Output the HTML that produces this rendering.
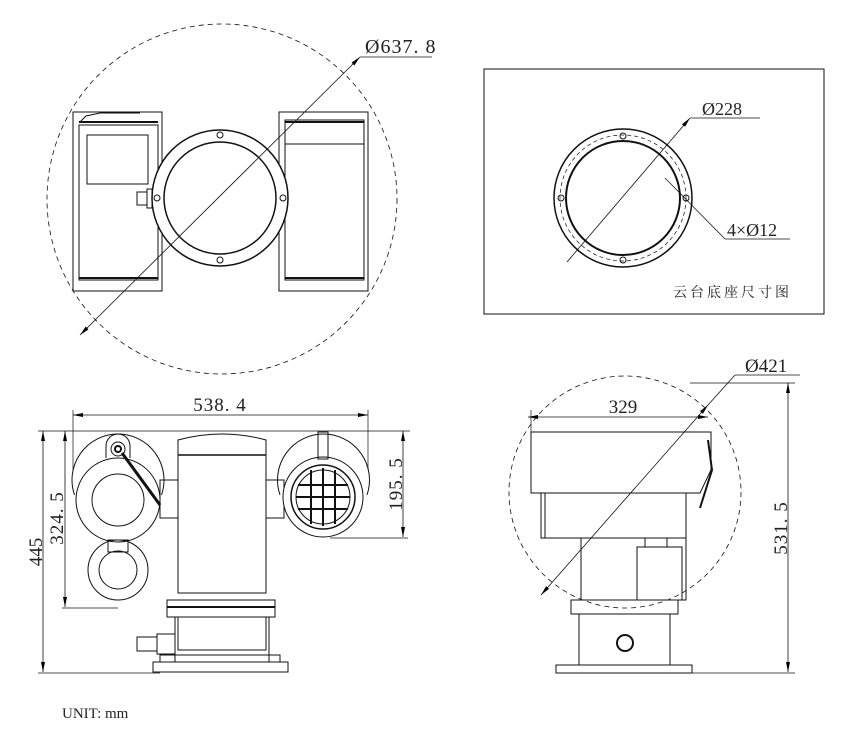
<!DOCTYPE html>
<html><head><meta charset="utf-8"><style>
html,body{margin:0;padding:0;background:#fff;}
svg{display:block;}
text{font-family:"Liberation Serif","Noto Serif CJK SC",serif;fill:#222;}
</style></head><body>
<svg width="863" height="736" viewBox="0 0 863 736" xmlns="http://www.w3.org/2000/svg">
<defs>
<marker id="a" viewBox="0 0 10 4" refX="10" refY="2" markerWidth="10" markerHeight="4" orient="auto-start-reverse" markerUnits="userSpaceOnUse"><path d="M0,0L10,2L0,4z" fill="#000"/></marker>
</defs>
<g fill="none" stroke="#111" stroke-width="1">
<!-- TOP LEFT -->
<circle cx="222" cy="199" r="175" stroke-dasharray="5,4" stroke-width="0.8"/>
<rect x="73" y="112" width="89" height="179"/>
<rect x="79" y="125" width="79" height="155"/>
<line x1="79" y1="122" x2="158" y2="122" stroke-width="2"/>
<line x1="79" y1="278" x2="158" y2="278" stroke-width="2"/>
<rect x="87" y="135" width="61" height="49"/>
<rect x="137" y="192" width="10" height="13"/>
<rect x="147" y="189" width="5" height="19"/>
<path d="M80,122 L86,116 L100,113 L140,113"/>
<rect x="279" y="112" width="89" height="179"/>
<rect x="285" y="120" width="79" height="160"/>
<line x1="285" y1="122" x2="364" y2="122" stroke-width="2"/>
<line x1="285" y1="278" x2="364" y2="278" stroke-width="2"/>
<line x1="285" y1="144" x2="364" y2="144"/>
<circle cx="220" cy="198" r="68" fill="#fff" stroke-width="1.5"/>
<circle cx="220" cy="198" r="56" stroke-width="1.5"/>
<circle cx="220" cy="135" r="3"/><circle cx="220" cy="260" r="3"/>
<circle cx="157" cy="198" r="3"/><circle cx="283" cy="198" r="3"/>
<line x1="80" y1="335" x2="360" y2="57" stroke-width="0.8" marker-start="url(#a)" marker-end="url(#a)"/>
<line x1="360" y1="57" x2="432" y2="57" stroke-width="0.8"/>
<!-- TOP RIGHT -->
<rect x="484" y="69" width="340" height="245"/>
<circle cx="623" cy="198" r="69" stroke-width="1.5"/>
<circle cx="623" cy="198" r="63" stroke-dasharray="4,3" stroke-width="0.7"/>
<circle cx="623" cy="198" r="57" stroke-width="2"/>
<circle cx="623" cy="136" r="3"/><circle cx="623" cy="260" r="3"/>
<circle cx="561" cy="198" r="3"/><circle cx="686" cy="198" r="3"/>
<line x1="567" y1="262" x2="690" y2="118" stroke-width="0.8" marker-end="url(#a)"/>
<line x1="690" y1="118" x2="760" y2="118" stroke-width="0.8"/>
<line x1="665" y1="178" x2="725" y2="239" stroke-width="0.8"/>
<line x1="725" y1="239" x2="790" y2="239" stroke-width="0.8"/>
<!-- BOTTOM LEFT -->
<line x1="73" y1="415" x2="368" y2="415" stroke-width="0.8" marker-start="url(#a)" marker-end="url(#a)"/>
<line x1="73" y1="410" x2="73" y2="470" stroke-width="0.7"/>
<line x1="368" y1="410" x2="368" y2="470" stroke-width="0.7"/>
<line x1="38" y1="431" x2="410" y2="431" stroke-width="0.7"/>
<line x1="43" y1="431" x2="43" y2="672" stroke-width="0.8" marker-start="url(#a)" marker-end="url(#a)"/>
<line x1="38" y1="673" x2="160" y2="673" stroke-width="0.7"/>
<line x1="65" y1="431" x2="65" y2="607" stroke-width="0.8" marker-start="url(#a)" marker-end="url(#a)"/>
<line x1="62" y1="608" x2="118" y2="608" stroke-width="0.7"/>
<line x1="403" y1="431" x2="403" y2="537" stroke-width="0.8" marker-start="url(#a)" marker-end="url(#a)"/>
<line x1="330" y1="538" x2="408" y2="538" stroke-width="0.7"/>
<path d="M178,440 Q222,428 266,440 L266,593 L178,593 Z"/>
<line x1="178" y1="455" x2="266" y2="455" stroke-width="1.5"/>
<rect x="167" y="600" width="108" height="17"/>
<line x1="167" y1="607" x2="275" y2="607" stroke-width="2"/>
<rect x="178" y="617" width="88" height="33"/>
<line x1="175" y1="617" x2="175" y2="662"/><line x1="269" y1="617" x2="269" y2="662"/>
<rect x="153" y="662" width="135" height="10"/>
<rect x="160" y="655" width="120" height="7"/>
<rect x="137" y="637" width="20" height="14"/><rect x="157" y="634" width="18" height="20"/>
<rect x="160" y="480" width="18" height="38"/>
<rect x="266" y="480" width="18" height="38"/>
<path d="M74.5,495 A46,46 0 1 1 161.5,495"/>
<circle cx="118" cy="500" r="42" fill="#fff"/>
<circle cx="118" cy="500" r="26"/>
<rect x="108" y="540" width="20" height="12"/>
<circle cx="118" cy="570" r="30"/><circle cx="118" cy="570" r="19"/>
<path d="M106,458 L106,446 A12,12 0 0 1 130,446 L130,458"/>
<circle cx="118" cy="449" r="7"/><circle cx="118" cy="449" r="3" stroke-width="2"/>
<line x1="122" y1="453" x2="160" y2="505" stroke-width="3"/>
<path d="M280,495 A46,46 0 1 1 367,495"/>
<circle cx="323" cy="497" r="40" fill="#fff"/>
<circle cx="323" cy="497" r="32" stroke-width="1.5"/>
<circle cx="323" cy="497" r="27"/>
<line x1="311" y1="470" x2="311" y2="524" stroke-width="2"/><line x1="323" y1="468" x2="323" y2="526" stroke-width="2"/><line x1="335" y1="470" x2="335" y2="524" stroke-width="2"/>
<line x1="298" y1="485" x2="348" y2="485" stroke-width="2"/><line x1="296" y1="497" x2="350" y2="497" stroke-width="2"/><line x1="298" y1="509" x2="348" y2="509" stroke-width="2"/>
<rect x="318" y="432" width="10" height="27"/>
<!-- BOTTOM RIGHT -->
<circle cx="625" cy="492" r="116" stroke-dasharray="5,4" stroke-width="0.8"/>
<path d="M531,432 L711,432 L711,470 L700,493 L531,493 Z" fill="#fff"/>
<rect x="541" y="493" width="145" height="45"/>
<line x1="545" y1="493" x2="545" y2="538"/>
<path d="M708,440 L712,470 L700,508" stroke-width="2"/>
<rect x="581" y="538" width="105" height="62"/>
<rect x="637" y="547" width="45" height="53"/>
<rect x="645" y="538" width="22" height="9"/>
<rect x="571" y="600" width="107" height="14"/>
<rect x="579" y="614" width="91" height="51"/>
<circle cx="625" cy="643" r="8" stroke-width="2"/>
<rect x="556" y="665" width="136" height="8"/>
<line x1="528" y1="417" x2="708" y2="417" stroke-width="0.8" marker-start="url(#a)" marker-end="url(#a)"/>
<line x1="531" y1="410" x2="531" y2="432" stroke-width="0.7"/>
<line x1="541" y1="595" x2="708" y2="405" stroke-width="0.8" marker-start="url(#a)" marker-end="url(#a)"/>
<line x1="708" y1="405" x2="735" y2="375" stroke-width="0.8"/>
<line x1="735" y1="375" x2="800" y2="375" stroke-width="0.8"/>
<line x1="690" y1="383" x2="795" y2="383" stroke-width="0.7"/>
<line x1="788" y1="383" x2="788" y2="672" stroke-width="0.8" marker-start="url(#a)" marker-end="url(#a)"/>
<line x1="692" y1="673" x2="795" y2="673" stroke-width="0.7"/>
</g>
<text x="365" y="53" font-size="20" letter-spacing="1">Ø637. 8</text>
<text x="702" y="115" font-size="18">Ø228</text>
<text x="727" y="236" font-size="18">4×Ø12</text>
<text x="673" y="297" font-size="14" letter-spacing="3">云台底座尺寸图</text>
<text x="220" y="411" font-size="19" text-anchor="middle" letter-spacing="1">538. 4</text>
<text x="623" y="413" font-size="19" text-anchor="middle">329</text>
<text x="745" y="372" font-size="19">Ø421</text>
<text transform="translate(42,552) rotate(-90)" font-size="19" text-anchor="middle">445</text>
<text transform="translate(63,518) rotate(-90)" font-size="19" text-anchor="middle" letter-spacing="1">324. 5</text>
<text transform="translate(402,484) rotate(-90)" font-size="19" text-anchor="middle" letter-spacing="1">195. 5</text>
<text transform="translate(787,528) rotate(-90)" font-size="19" text-anchor="middle" letter-spacing="1">531. 5</text>
<text x="62" y="718" font-size="15">UNIT: mm</text>
</svg>
</body></html>
